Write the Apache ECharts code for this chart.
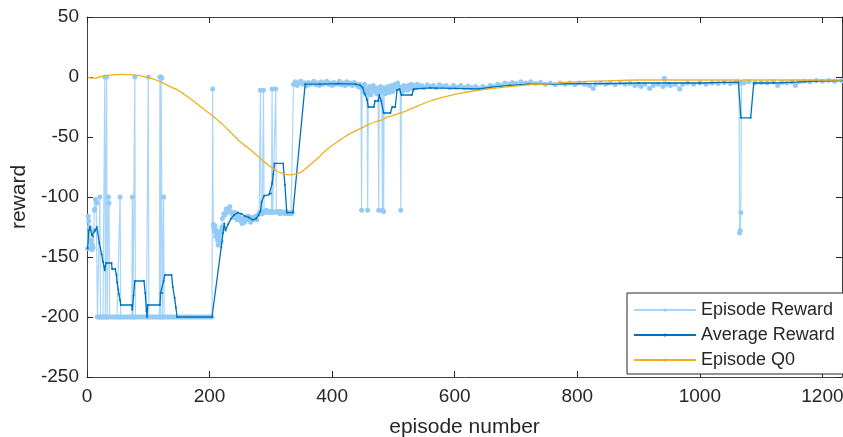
<!DOCTYPE html>
<html>
<head>
<meta charset="utf-8">
<script src="https://cdn.jsdelivr.net/npm/echarts@6/dist/echarts.min.js"></script>
<style>
  html, body { margin: 0; padding: 0; background: #fff; }
  #chart { width: 843px; height: 437px; }
</style>
</head>
<body>
<div id="chart"></div>
<script>
// episode number / reward pairs
const episodeReward = [
  [1,-143],[2,-116],[3,-120],[4,-125],[5,-143],[6,-138],[7,-136],[8,-144],[9,-140],[10,-142],
  [11,-128],[12,-111],[13,-110],[14,-102],[15,-104],[16,-105],[17,-200],[19,-200],[20,-200],[21,-100],
  [22,-200],[24,-200],[26,-200],[28,-200],[29,0],[30,-200],[31,-200],[32,0],[33,-200],[34,-200],
  [35,-100],[36,-105],[37,-200],[40,-200],[43,-200],[46,-200],[49,-200],[52,-200],[53,-200],[54,-100],
  [55,-200],[58,-200],[61,-200],[64,-200],[67,-200],[70,-200],[73,-200],[74,-100],[75,-200],[77,-200],
  [78,0],[79,-200],[82,-200],[85,-200],[88,-200],[91,-200],[94,-200],[97,-200],[99,-200],[100,0],
  [101,-200],[104,-200],[107,-200],[110,-200],[113,-200],[116,-200],[118,-200],[119,0],[120,-200],[121,0],
  [122,-1],[123,-200],[124,-200],[125,-100],[126,-200],[129,-200],[132,-200],[135,-200],[138,-200],[141,-200],
  [144,-200],[147,-200],[150,-200],[153,-200],[156,-200],[159,-200],[162,-200],[165,-200],[168,-200],[171,-200],
  [174,-200],[177,-200],[180,-200],[183,-200],[186,-200],[189,-200],[192,-200],[195,-200],[198,-200],[201,-200],
  [204,-200],[205,-10],[206,-123],[207,-126],[208,-129],[209,-124],[210,-133],[211,-128],[212,-131],[213,-136],
  [214,-140],[215,-133],[216,-138],[217,-130],[218,-128],[219,-137],[220,-125],[221,-118],[223,-114],[225,-115],
  [227,-110],[229,-113],[231,-111],[233,-108],[235,-112],[237,-114],[239,-117],[241,-113],[243,-116],[245,-119],
  [247,-115],[249,-117],[251,-120],[253,-122],[255,-118],[257,-121],[259,-117],[261,-119],[263,-116],[265,-118],
  [267,-121],[269,-117],[271,-119],[273,-118],[275,-116],[277,-119],[279,-115],[281,-113],[283,-11],[284,-112],
  [286,-114],[288,-11],[289,-112],[291,-113],[293,-111],[295,-112],[297,-113],[299,-112],[301,-113],[302,-10],
  [303,-112],[305,-113],[308,-10],[309,-112],[311,-113],[313,-112],[315,-114],[317,-112],[319,-113],[321,-113],
  [323,-114],[325,-112],[327,-113],[329,-114],[331,-113],[333,-114],[335,-113],[337,-6],[340,-4],[343,-7],
  [346,-5],[349,-3.5],[352,-6],[355,-5],[358,-7.5],[361,-4.5],[364,-6],[367,-5],[370,-3.5],[373,-6.5],
  [376,-5],[379,-7],[382,-4],[385,-6],[388,-5],[391,-3.5],[394,-6],[397,-5],[400,-7],[403,-4.5],
  [406,-6],[409,-5.5],[412,-3.5],[415,-6.5],[418,-5],[421,-7],[424,-4],[427,-6],[430,-5],[433,-7],
  [436,-4.5],[439,-6],[442,-8],[445,-6],[447,-9],[448,-111],[449,-8],[451,-12],[453,-6],[455,-14],
  [457,-10],[458,-111],[459,-13],[461,-8],[463,-15],[465,-10],[467,-7],[469,-12],[471,-9],[473,-14],
  [475,-10],[476,-111],[477,-13],[479,-8],[481,-11],[482,-111],[483,-12],[484,-112],[485,-9],[487,-14],
  [489,-11],[491,-8],[493,-13],[495,-10],[497,-7],[499,-12],[501,-9],[503,-6],[505,-10],[507,-5],
  [509,-8],[511,-10],[512,-111],[513,-9],[515,-12],[517,-7],[519,-10],[521,-8],[523,-11],[525,-7],
  [527,-9],[529,-6],[531,-10],[533,-7],[536,-9],[539,-6],[542,-8],[546,-7],[550,-9],[555,-6.5],
  [560,-8],[565,-7],[570,-9],[575,-6.5],[580,-8],[586,-7],[592,-9],[598,-7],[604,-8.5],[610,-7],
  [616,-9],[622,-7.5],[628,-9],[634,-8],[640,-9.5],[646,-8],[652,-9],[658,-7],[664,-8],[670,-6],
  [676,-7],[682,-5],[688,-6],[694,-4.5],[700,-5.5],[708,-4],[716,-5],[724,-4],[732,-5.5],[740,-4.5],
  [748,-6],[756,-5],[764,-6.5],[772,-5],[780,-6],[788,-5],[796,-6.5],[804,-5],[812,-6],[820,-7],
  [826,-9.5],[830,-6],[838,-5],[846,-6],[854,-5],[862,-6.5],[870,-5],[878,-6],[886,-5.5],[894,-7],
  [900,-6],[904,-8],[910,-6],[918,-9.5],[924,-7],[932,-6],[940,-8],[942,-1],[946,-6],[952,-7],
  [960,-6],[967,-10],[972,-6],[980,-5],[990,-6],[1000,-5],[1010,-6],[1020,-5],[1030,-5.5],[1040,-4.5],
  [1050,-5.5],[1058,-4.5],[1064,-4],[1065,-130],[1066,-128],[1067,-113],[1068,-5],[1072,-5],[1080,-4],[1090,-5],
  [1100,-4.5],[1110,-5],[1120,-4],[1127,-7],[1134,-4.5],[1142,-5],[1150,-4],[1156,-7],[1162,-4],[1170,-3.5],
  [1180,-4],[1190,-3],[1200,-3.5],[1210,-3],[1220,-3.5],[1232,-3]
];

const averageReward = [
  [1,-143],[3,-128],[5,-125],[8,-132],[10,-133],[13,-128],[16,-125],[20,-138],[24,-148],[26,-154],
  [28,-158],[29,-161],[31,-155],[40,-155],[41,-160],[46,-160],[48,-165],[49,-171],[51,-177],[52,-181],
  [54,-186],[55,-190],[73,-190],[74,-194],[76,-182],[78,-170],[93,-170],[95,-180],[97,-195],[98,-200],
  [99,-190],[119,-190],[120,-180],[123,-180],[125,-170],[127,-165],[138,-165],[140,-175],[143,-184],[145,-192],
  [147,-200],[204,-200],[219,-142],[222,-130],[224,-122],[226,-128],[230,-123],[235,-118],[240,-115],[246,-113],
  [252,-114],[258,-116],[264,-117],[270,-119],[276,-118],[280,-115],[283,-112],[285,-104],[289,-99],[297,-98],
  [300,-97],[302,-89],[304,-81],[306,-72],[320,-72],[323,-90],[326,-113],[336,-113],[356,-6],[380,-6],
  [410,-5.5],[438,-6],[446,-7],[450,-9],[453,-14],[457,-19],[459,-25],[468,-25],[470,-20],[475,-20],
  [477,-15],[480,-20],[484,-30],[495,-30],[498,-25],[503,-25],[506,-11],[510,-10],[513,-15],[530,-15],
  [533,-10],[560,-9],[600,-9.5],[640,-10],[660,-8.5],[690,-7],[720,-6],[760,-6],[800,-5.5],[850,-5.5],
  [900,-5],[950,-5],[1000,-5],[1040,-4.5],[1063,-4.5],[1067,-34],[1083,-34],[1088,-5],[1120,-5],[1150,-4.5],
  [1190,-3.5],[1232,-3]
];

const episodeQ0 = [
  [1,0],[8,-1],[14,-1],[20,0],[30,1],[45,2],[60,2.2],[75,1.8],[90,0.8],[100,-0.5],
  [110,-2],[120,-4],[130,-6.5],[140,-9],[150,-11.5],[160,-15],[170,-18.5],[180,-22.5],[190,-26.5],[200,-30.5],
  [210,-34.5],[220,-39],[230,-44],[240,-49],[250,-54],[260,-58],[270,-62],[280,-66.5],[290,-71],[300,-75],
  [310,-78.5],[320,-80.5],[330,-81.5],[340,-81],[350,-79],[360,-75],[370,-70.5],[380,-66],[390,-61],[400,-57],
  [410,-53.5],[420,-50],[430,-47],[440,-44.5],[450,-42],[460,-39.5],[470,-37.5],[480,-36],[490,-33.5],[500,-32],
  [520,-28.5],[540,-24],[560,-20],[580,-17],[600,-14.5],[620,-12.5],[640,-11],[660,-9.5],[680,-8.5],[700,-7.5],
  [720,-6.5],[740,-6],[760,-5.5],[780,-4.5],[800,-4],[830,-3.5],[860,-3],[900,-2.5],[950,-2.5],[1000,-2.5],
  [1050,-2.5],[1062,-2.5],[1066,-4],[1070,-2.5],[1100,-2.5],[1150,-2.5],[1200,-2.5],[1232,-2.5]
];

const seriesNames = ["Episode Reward", "Average Reward", "Episode Q0"];

const chart = echarts.init(document.getElementById("chart"));
const font = "'Liberation Sans', Arial, Helvetica, sans-serif";
const axisColor = "#404040";

// box axes: lines on all four sides, ticks pointing inwards (matlab look)
const boxAxis = {
  axisLine: { show: true, onZero: false, lineStyle: { color: axisColor, width: 1 } },
  axisTick: { show: true, inside: true, length: 6, lineStyle: { color: "#262626" } },
  splitLine: { show: false },
};

const plainNumber = (v) => String(v);

const options = {
  animation: false,
  backgroundColor: "#fff",
  // fixed plot box, no auto shrinking for labels
  grid: { left: 87, right: 1, top: 17, bottom: 60, outerBoundsMode: "none" },
  xAxis: [
    {
      type: "value",
      min: 0,
      max: 1232,
      interval: 200,
      position: "bottom",
      ...boxAxis,
      axisLabel: {
        color: "#262626",
        fontSize: 19,
        fontFamily: font,
        margin: 10,
        showMaxLabel: false,
        formatter: plainNumber,
      },
      name: "episode number",
      nameLocation: "middle",
      nameGap: 40,
      nameTextStyle: { color: "#262626", fontSize: 21, fontFamily: font },
    },
    {
      type: "value",
      min: 0,
      max: 1232,
      interval: 200,
      position: "top",
      ...boxAxis,
      axisLabel: { show: false },
    },
  ],
  yAxis: [
    {
      type: "value",
      min: -250,
      max: 50,
      interval: 50,
      position: "left",
      ...boxAxis,
      axisLabel: { color: "#262626", fontSize: 19, fontFamily: font, margin: 8, formatter: plainNumber },
      name: "reward",
      nameLocation: "middle",
      nameGap: 52,
      nameTextStyle: { color: "#262626", fontSize: 21, fontFamily: font },
    },
    {
      type: "value",
      min: -250,
      max: 50,
      interval: 50,
      position: "right",
      ...boxAxis,
      axisLabel: { show: false },
    },
  ],
  legend: {
    data: seriesNames,
    orient: "vertical",
    left: 627,
    top: 293,
    padding: [7, 10, 4, 6],
    itemWidth: 62,
    itemHeight: 4,
    itemGap: 5,
    backgroundColor: "#fff",
    borderColor: "#262626",
    borderWidth: 1,
    borderRadius: 0,
    textStyle: { color: "#262626", fontSize: 18, fontFamily: font, lineHeight: 20 },
  },
  series: [
    {
      name: seriesNames[0],
      type: "line",
      data: episodeReward,
      symbol: "circle",
      symbolSize: 5,
      showAllSymbol: true,
      lineStyle: { color: "#a9d6f8", width: 1.2 },
      itemStyle: { color: "#94cbf5" },
      z: 2,
    },
    {
      name: seriesNames[1],
      type: "line",
      data: averageReward,
      symbol: "circle",
      symbolSize: 2,
      lineStyle: { color: "#0072BD", width: 1.3 },
      itemStyle: { color: "#0072BD" },
      z: 3,
    },
    {
      name: seriesNames[2],
      type: "line",
      data: episodeQ0,
      smooth: 0.3,
      symbol: "none",
      lineStyle: { color: "#EDB120", width: 1.3 },
      itemStyle: { color: "#EDB120" },
      z: 4,
    },
  ],
};

chart.setOption(options);
</script>
</body>
</html>
